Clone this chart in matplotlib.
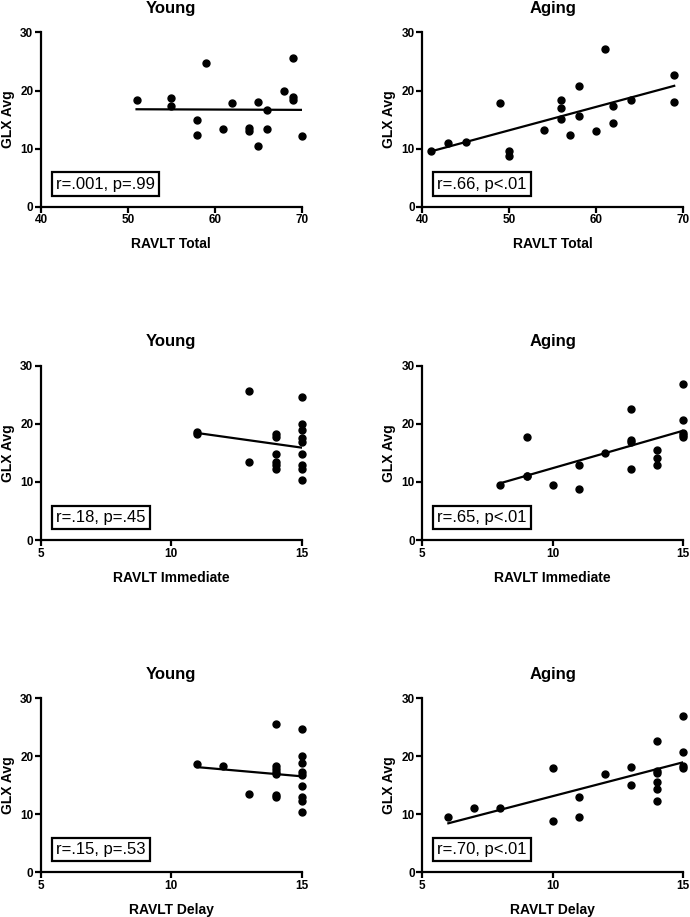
import matplotlib
matplotlib.use("Agg")
import matplotlib.pyplot as plt
import numpy as np

plt.rcParams["font.family"] = ["Liberation Sans", "DejaVu Sans"]

# RAVLT Total
young_total_x = [51, 55, 55, 58, 58, 59, 61, 62, 64, 64, 65, 65, 66, 66, 68, 69, 69, 69, 70]
young_total_y = [18.4, 18.8, 17.3, 14.9, 12.3, 24.7, 13.3, 17.8, 13.6, 13.0, 18.0, 10.4,
                 16.7, 13.3, 20.0, 25.6, 18.9, 18.3, 12.2]
aging_total_x = [41, 43, 45, 49, 50, 50, 54, 56, 56, 56, 57, 58, 58, 60, 61, 62, 62, 64, 69, 69]
aging_total_y = [9.6, 11.0, 11.1, 17.9, 9.6, 8.8, 13.2, 18.3, 17.0, 15.1, 12.3, 20.8, 15.7,
                 13.0, 27.1, 17.4, 14.4, 18.3, 22.7, 18.1]

# RAVLT Immediate
young_imm_x = [11, 11, 13, 13, 14, 14, 14, 14, 14, 14, 15, 15, 15, 15, 15, 15, 15, 15, 15]
young_imm_y = [18.6, 18.3, 25.6, 13.5, 18.3, 17.8, 14.8, 13.4, 12.9, 12.3,
               24.6, 20.0, 18.9, 17.5, 16.8, 14.8, 12.9, 12.2, 10.4]
aging_imm_x = [8, 9, 9, 9, 10, 11, 11, 12, 13, 13, 13, 13, 14, 14, 14, 15, 15, 15, 15, 15]
aging_imm_y = [9.5, 17.8, 11.0, 11.1, 9.5, 13.0, 8.8, 15.0, 22.5, 17.3, 16.9, 12.3,
               15.5, 14.2, 13.0, 26.9, 20.7, 18.4, 17.8, 18.0]

# RAVLT Delay
young_del_x = [11, 12, 13, 14, 14, 14, 14, 14, 14, 14, 15, 15, 15, 15, 15, 15, 15, 15, 15]
young_del_y = [18.7, 18.3, 13.5, 25.5, 18.3, 17.8, 16.9, 17.2, 13.4, 13.0,
               24.6, 20.0, 18.9, 17.3, 14.8, 12.9, 12.2, 10.4, 16.8]
aging_del_x = [6, 7, 8, 10, 10, 11, 11, 12, 13, 13, 14, 14, 14, 14, 14, 14, 15, 15, 15, 15]
aging_del_y = [9.6, 11.1, 11.0, 17.9, 8.8, 13.0, 9.6, 17.0, 18.2, 15.1, 22.6, 17.4,
               15.6, 14.4, 12.3, 17.1, 27.0, 20.8, 18.3, 17.9]

stats = ["r=.001, p=.99", "r=.66, p<.01", "r=.18, p=.45", "r=.65, p<.01",
         "r=.15, p=.53", "r=.70, p<.01"]

panels = [
    (young_total_x, young_total_y, "Young", "RAVLT Total", (40, 70), [40, 50, 60, 70]),
    (aging_total_x, aging_total_y, "Aging", "RAVLT Total", (40, 70), [40, 50, 60, 70]),
    (young_imm_x, young_imm_y, "Young", "RAVLT Immediate", (5, 15), [5, 10, 15]),
    (aging_imm_x, aging_imm_y, "Aging", "RAVLT Immediate", (5, 15), [5, 10, 15]),
    (young_del_x, young_del_y, "Young", "RAVLT Delay", (5, 15), [5, 10, 15]),
    (aging_del_x, aging_del_y, "Aging", "RAVLT Delay", (5, 15), [5, 10, 15]),
]

fig = plt.figure(figsize=(6.9, 9.17), dpi=100)
lefts = [0.0594, 0.612]
bottoms = [0.7746, 0.4111, 0.0487]
w, h = 0.3777, 0.190

for i, (x, y, title, xlabel, xlim, xticks) in enumerate(panels):
    ax = fig.add_axes([lefts[i % 2], bottoms[i // 2], w, h])
    x = np.array(x, dtype=float)
    y = np.array(y, dtype=float)
    ax.plot(x, y, "o", color="black", markersize=5, clip_on=False)
    k, b = np.polyfit(x, y, 1)
    xs = np.array([x.min(), x.max()])
    ax.plot(xs, k * xs + b, color="black", linewidth=1.6)
    ax.set_xlim(*xlim)
    ax.set_ylim(0, 30)
    ax.set_xticks(xticks)
    ax.set_yticks([0, 10, 20, 30])
    ax.spines["top"].set_visible(False)
    ax.spines["right"].set_visible(False)
    ax.spines["left"].set_linewidth(1.6)
    ax.spines["bottom"].set_linewidth(1.6)
    ax.tick_params(width=1.6, length=4.5, labelsize=8.5, pad=1)
    for lab in ax.get_xticklabels() + ax.get_yticklabels():
        lab.set_fontweight("bold")
    ax.set_title(title, fontsize=12, fontweight="bold", pad=14)
    ax.set_xlabel(xlabel, fontsize=10, fontweight="bold", labelpad=8)
    ax.set_ylabel("GLX Avg", fontsize=10, fontweight="bold", labelpad=4)
    ax.text(0.058, 0.087, stats[i], transform=ax.transAxes, fontsize=12,
            va="bottom", ha="left",
            bbox=dict(boxstyle="square,pad=0.25", facecolor="white",
                      edgecolor="black", linewidth=1.6))

fig.savefig("out.png", dpi=100)
